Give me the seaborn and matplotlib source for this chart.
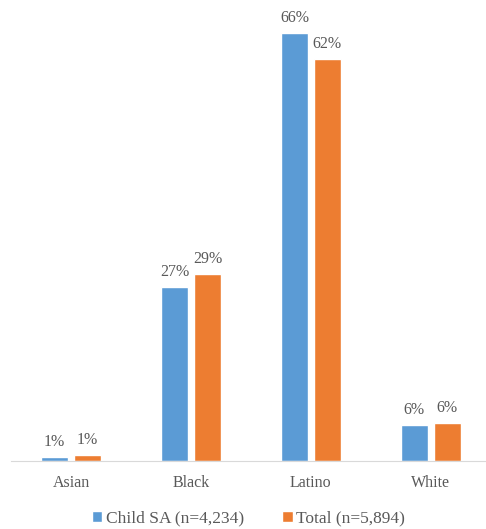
import pandas as pd
import matplotlib
matplotlib.use("Agg")
import matplotlib.pyplot as plt
import seaborn as sns

# data
groups = ["Asian", "Black", "Latino", "White"]
child_sa = [0.6, 26.9, 66.0, 5.6]
total = [0.9, 28.9, 62.0, 5.9]
series = ["Child SA (n=4,234)", "Total (n=5,894)"]
colors = ["#5B9BD5", "#ED7D31"]

df = pd.DataFrame({
    "group": groups * 2,
    "pct": child_sa + total,
    "series": [series[0]] * 4 + [series[1]] * 4,
})

sns.set_style("white")
plt.rcParams["font.family"] = ["Liberation Serif", "DejaVu Serif"]

fig = plt.figure(figsize=(4.86, 5.29), dpi=100)
ax = fig.add_axes([11 / 486, 68 / 529, 475 / 486, 453.6 / 529])

sns.barplot(data=df, x="group", y="pct", hue="series", palette=colors,
            width=0.55, gap=0.18, ax=ax, saturation=1)

for cont in ax.containers:
    ax.bar_label(cont, labels=[f"{b.get_height():.0f}%" for b in cont],
                 padding=5, fontsize=11.5, color="#595959")

ax.set_ylim(0, 70)
ax.set_xlim(-0.5, 3.46)
ax.set_xlabel("")
ax.set_ylabel("")
ax.set_yticks([])
ax.tick_params(axis="x", length=0, pad=10, labelsize=11.5, labelcolor="#595959")
for s in ["top", "right", "left"]:
    ax.spines[s].set_visible(False)
ax.spines["bottom"].set_color("#d9d9d9")

ax.legend(loc="upper center", bbox_to_anchor=(0.5, -0.075), ncol=2, frameon=False,
          fontsize=12.5, handlelength=0.6, handleheight=0.6, handletextpad=0.2,
          columnspacing=2.2, labelcolor="#595959")

fig.savefig("out.png", dpi=100)
